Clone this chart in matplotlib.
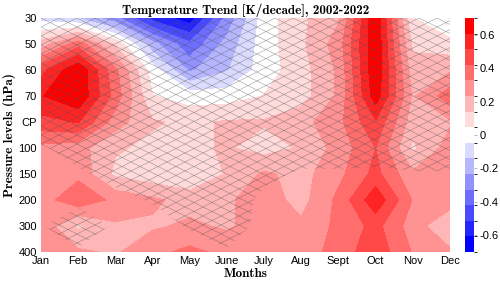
import numpy as np
import matplotlib
matplotlib.use("Agg")
from matplotlib import pyplot as plt
from matplotlib.colors import ListedColormap, BoundaryNorm
from matplotlib.collections import LineCollection
from matplotlib.patches import PathPatch

months = ["Jan", "Feb", "Mar", "Apr", "May", "June", "July", "Aug", "Sept", "Oct", "Nov", "Dec"]
levels = ["30", "50", "60", "70", "CP", "100", "150", "200", "300", "400"]

# trend [K/decade], one row per pressure level, one column per month
trend = np.array([
    [-0.08, -0.15, -0.30, -0.55, -0.66, -0.30, 0.00, 0.12, 0.22, 0.69, 0.05, -0.06],
    [0.18, 0.38, 0.12, -0.20, -0.40, -0.20, 0.00, 0.12, 0.28, 0.69, 0.12, 0.08],
    [0.48, 0.69, 0.35, 0.00, -0.25, -0.15, 0.00, 0.10, 0.25, 0.69, 0.18, 0.22],
    [0.60, 0.69, 0.38, 0.05, 0.00, 0.00, 0.05, 0.10, 0.25, 0.66, 0.22, 0.38],
    [0.48, 0.52, 0.28, 0.15, 0.12, 0.15, 0.15, 0.20, 0.30, 0.50, 0.18, 0.22],
    [0.30, 0.27, 0.15, 0.12, 0.12, 0.15, 0.10, 0.15, 0.27, 0.42, 0.12, 0.28],
    [0.28, 0.30, 0.12, 0.08, 0.04, 0.15, 0.25, 0.20, 0.30, 0.45, 0.25, 0.32],
    [0.28, 0.40, 0.30, 0.25, 0.20, 0.22, 0.28, 0.20, 0.35, 0.58, 0.32, 0.28],
    [0.30, 0.12, 0.22, 0.22, 0.25, 0.22, 0.28, 0.25, 0.35, 0.45, 0.28, 0.15],
    [0.32, 0.25, 0.22, 0.30, 0.35, 0.30, 0.30, 0.27, 0.37, 0.48, 0.32, 0.25],
])

# 1 = not significant (hatched)
notsig = np.array([
    [1, 1, 1, 1, 1, 1, 1, 1, 1, 1, 1, 1],
    [1, 1, 1, 1, 1, 1, 1, 1, 1, 1, 1, 1],
    [1, 1, 1, 1, 1, 1, 1, 1, 1, 1, 1, 1],
    [1, 1, 1, 1, 1, 1, 1, 1, 1, 1, 1, 1],
    [1, 1, 1, 1, 1, 1, 1, 1, 1, 1, 1, 1],
    [0.4, 0.9, 1, 1, 1, 1, 1, 0.9, 0.9, 0.9, 0.9, 0.9],
    [0, 0.35, 0.8, 1, 1, 1, 0.7, 0.4, 0.4, 0.35, 0.45, 0.45],
    [0, 0.3, 0.2, 0.6, 0.8, 1, 0.3, 0, 0, 0, 0, 0],
    [0.45, 1, 0.4, 0, 0.6, 1, 0.2, 0, 0, 0, 0, 0],
    [0, 0.4, 0, 0, 0, 0.4, 0, 0, 0, 0, 0, 0],
])

n = 7
cols = []
for i in range(-n, n + 1):
    f = abs(i) / n
    if i < 0:
        cols.append((1 - f, 1 - f, 1))
    else:
        cols.append((1, 1 - f, 1 - f))
cmap = ListedColormap(cols)
bounds = np.linspace(-0.7, 0.7, 2 * n + 2)
norm = BoundaryNorm(bounds, cmap.N)

fig = plt.figure(figsize=(5, 2.86), dpi=100)
ax = fig.add_axes([0.082, 0.119, 0.818, 0.818])
cax = fig.add_axes([0.930, 0.119, 0.018, 0.818])

x = np.arange(len(months))
y = np.arange(len(levels))
cf = ax.contourf(x, y, trend, levels=bounds, cmap=cmap, norm=norm)

# hatching: diamond lattice clipped to the non-significant region
ms = ax.contourf(x, y, notsig, levels=[0.5, 2], colors="none")
clip = PathPatch(ms.get_paths()[0], transform=ax.transData, facecolor="none", edgecolor="none")
ax.add_patch(clip)
wpx, hpx = 409.0, 234.0
k = 0.5 * wpx / hpx
step = 9.0 / hpx
segs = []
for c in np.arange(-3, 3, step):
    segs.append([(0, c), (1, c + k)])
    segs.append([(0, c), (1, c - k)])
lc = LineCollection(segs, colors="#505050", linewidths=0.5, alpha=0.45, transform=ax.transAxes)
lc.set_clip_path(clip)
ax.add_collection(lc)

ax.set_xlim(0, len(months) - 1)
ax.set_ylim(len(levels) - 1, 0)
ax.set_xticks(x)
ax.set_xticklabels(months)
ax.set_yticks(y)
ax.set_yticklabels(levels)
ax.tick_params(length=0, labelsize=8, pad=3)
for lab in ax.get_xticklabels() + ax.get_yticklabels():
    lab.set_fontfamily("Liberation Sans")
for s in ax.spines.values():
    s.set_visible(False)

serif = ["cmb10", "DejaVu Serif"]
ax.set_title("Temperature Trend [K/decade], 2002-2022", fontfamily=serif,
             fontsize=9.5, pad=3)
ax.set_xlabel("Months", fontfamily=serif, fontsize=9.5, labelpad=1)
ax.set_ylabel("Pressure levels (hPa)", fontfamily=serif, fontsize=9.5, labelpad=2)

cb = fig.colorbar(cf, cax=cax, ticks=[-0.6, -0.4, -0.2, 0, 0.2, 0.4, 0.6])
cb.ax.set_yticklabels(["-0.6", "-0.4", "-0.2", "0", "0.2", "0.4", "0.6"])
cb.ax.tick_params(length=2, width=0.4, labelsize=8, pad=2, color="#888888")
for lab in cb.ax.get_yticklabels():
    lab.set_fontfamily("Liberation Sans")
cb.outline.set_visible(False)

fig.savefig("out.png", dpi=100)
